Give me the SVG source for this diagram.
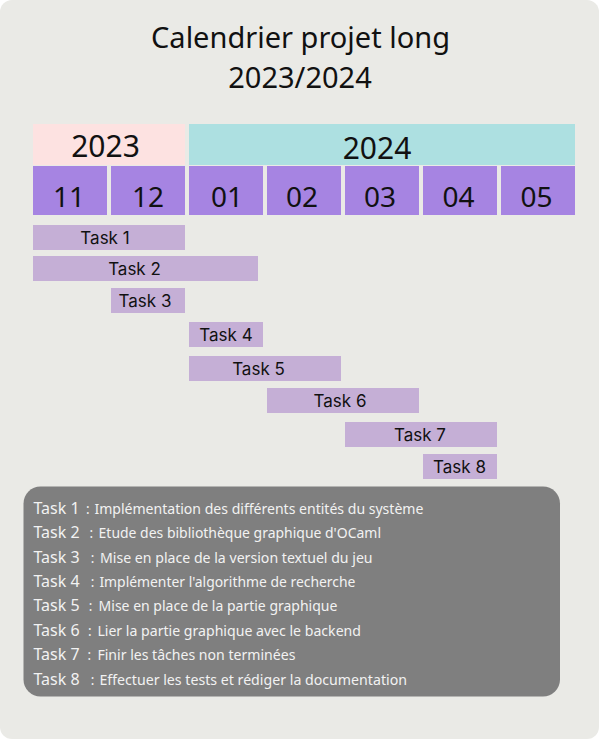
<svg xmlns="http://www.w3.org/2000/svg" width="599" height="739" viewBox="0 0 599 739">
<style>
.t{font-family:"Noto Sans","Open Sans",sans-serif;fill:#111;text-anchor:middle}
.title{font-size:29px}
.yr{font-size:30px}
.mo{font-size:28px}
.bar{fill:#c5afd6}
.bl{font-family:Inter,"Noto Sans",sans-serif;font-size:17px;fill:#111;text-anchor:middle}
.mon{fill:#a684e2}
.lg{font-family:"Noto Sans","Open Sans",sans-serif;fill:#f2f2f2}
.lk{font-size:16px}
.ld{font-size:13.5px}
</style>
<rect x="0" y="0" width="599" height="739" rx="12" fill="#eaeae6"/>
<g id="title">
<text class="t title" x="300.5" y="48">Calendrier projet long</text>
<text class="t title" x="300" y="88">2023/2024</text>
</g>
<g id="year-2023"><rect x="33" y="124" width="152" height="41" fill="#fde2e1"/><text class="t yr" x="105.5" y="157">2023</text></g>
<g id="year-2024"><rect x="189" y="124" width="386" height="41" fill="#ade0e1"/><text class="t yr" x="377" y="159">2024</text></g>
<g id="m11"><rect class="mon" x="33" y="166" width="74" height="49"/><text class="t mo" x="69" y="207">11</text></g>
<g id="m12"><rect class="mon" x="111" y="166" width="74" height="49"/><text class="t mo" x="148" y="207">12</text></g>
<g id="m01"><rect class="mon" x="189" y="166" width="74" height="49"/><text class="t mo" x="227" y="207">01</text></g>
<g id="m02"><rect class="mon" x="267" y="166" width="74" height="49"/><text class="t mo" x="302" y="207">02</text></g>
<g id="m03"><rect class="mon" x="345" y="166" width="74" height="49"/><text class="t mo" x="380" y="207">03</text></g>
<g id="m04"><rect class="mon" x="423" y="166" width="74" height="49"/><text class="t mo" x="458.5" y="207">04</text></g>
<g id="m05"><rect class="mon" x="501" y="166" width="74" height="49"/><text class="t mo" x="536.5" y="207">05</text></g>
<g id="task1"><rect class="bar" x="33" y="225" width="152" height="25"/><text class="bl" x="105" y="244">Task 1</text></g>
<g id="task2"><rect class="bar" x="33" y="256" width="225" height="25"/><text class="bl" x="134.5" y="275">Task 2</text></g>
<g id="task3"><rect class="bar" x="111" y="288" width="74" height="25"/><text class="bl" x="145" y="307">Task 3</text></g>
<g id="task4"><rect class="bar" x="189" y="322" width="74" height="25"/><text class="bl" x="226" y="341">Task 4</text></g>
<g id="task5"><rect class="bar" x="189" y="356" width="152" height="25"/><text class="bl" x="258.5" y="375">Task 5</text></g>
<g id="task6"><rect class="bar" x="267" y="388" width="152" height="25"/><text class="bl" x="340" y="407">Task 6</text></g>
<g id="task7"><rect class="bar" x="345" y="422" width="152" height="25"/><text class="bl" x="420" y="441">Task 7</text></g>
<g id="task8"><rect class="bar" x="423" y="454" width="74" height="25"/><text class="bl" x="459.5" y="473">Task 8</text></g>
<g id="legend">
<rect x="23.5" y="486.5" width="536.5" height="210" rx="17" fill="#7f7f7f"/>
<text class="lg" y="513.5"><tspan class="lk" x="33.5">Task 1</tspan><tspan class="ld" x="86">:</tspan><tspan class="ld" x="94.4" textLength="329" lengthAdjust="spacingAndGlyphs">Implémentation des différents entités du système</tspan></text>
<text class="lg" y="538"><tspan class="lk" x="33.5">Task 2</tspan><tspan class="ld" x="89.5">:</tspan><tspan class="ld" x="98.6" textLength="282.4" lengthAdjust="spacingAndGlyphs">Etude des bibliothèque graphique d'OCaml</tspan></text>
<text class="lg" y="562.5"><tspan class="lk" x="33.5">Task 3</tspan><tspan class="ld" x="90.7">:</tspan><tspan class="ld" x="100" textLength="272.6" lengthAdjust="spacingAndGlyphs">Mise en place de la version textuel du jeu</tspan></text>
<text class="lg" y="587"><tspan class="lk" x="33.5">Task 4</tspan><tspan class="ld" x="90.7">:</tspan><tspan class="ld" x="99.4" textLength="256" lengthAdjust="spacingAndGlyphs">Implémenter l'algorithme de recherche</tspan></text>
<text class="lg" y="611"><tspan class="lk" x="33.5">Task 5</tspan><tspan class="ld" x="88.8">:</tspan><tspan class="ld" x="98.6" textLength="238.8" lengthAdjust="spacingAndGlyphs">Mise en place de la partie graphique</tspan></text>
<text class="lg" y="635.5"><tspan class="lk" x="33.5">Task 6</tspan><tspan class="ld" x="88">:</tspan><tspan class="ld" x="97.4" textLength="263.6" lengthAdjust="spacingAndGlyphs">Lier la partie graphique avec le backend</tspan></text>
<text class="lg" y="660"><tspan class="lk" x="33.5">Task 7</tspan><tspan class="ld" x="87.6">:</tspan><tspan class="ld" x="97.4" textLength="198" lengthAdjust="spacingAndGlyphs">Finir les tâches non terminées</tspan></text>
<text class="lg" y="684.5"><tspan class="lk" x="33.5">Task 8</tspan><tspan class="ld" x="90.7">:</tspan><tspan class="ld" x="99.4" textLength="307.6" lengthAdjust="spacingAndGlyphs">Effectuer les tests et rédiger la documentation</tspan></text>
</g>
</svg>
